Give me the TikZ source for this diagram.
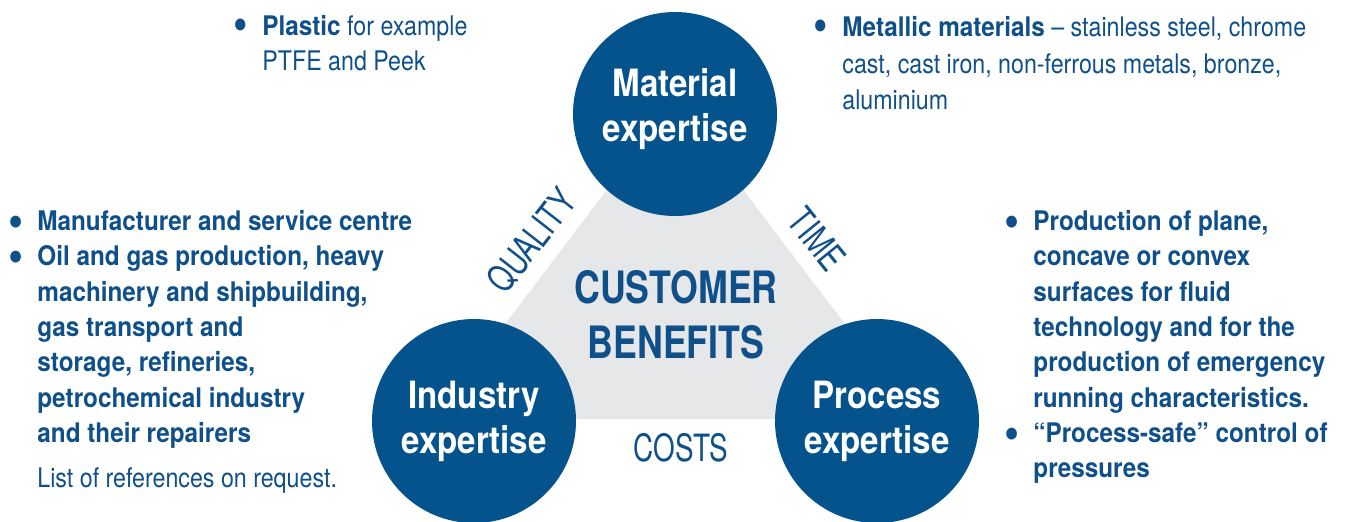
\documentclass[tikz,border=0pt]{standalone}
\usepackage{fontspec}
\setmainfont{TeX Gyre Heros}[UprightFeatures={FakeStretch=0.86},BoldFeatures={FakeStretch=0.9}]
\newfontfamily\capsfont{TeX Gyre Heros}[UprightFeatures={FakeStretch=0.74},BoldFeatures={FakeStretch=0.8}]
\newfontfamily\circfont{TeX Gyre Heros}[BoldFeatures={FakeStretch=0.88}]

\definecolor{kblue}{RGB}{4,83,140}
\definecolor{ktext}{RGB}{16,80,138}
\definecolor{kgray}{RGB}{230,231,233}

\tikzset{
  expertise/.style={circle,fill=kblue,minimum size=102pt,inner sep=0pt,text=white,align=center,
    font=\circfont\bfseries\fontsize{18.8}{22.5}\selectfont},
  listbold/.style={anchor=north west,inner sep=0pt,text=ktext,align=left,
    font=\bfseries\fontsize{13.5}{17.65}\selectfont},
  listplain/.style={anchor=north west,inner sep=0pt,text=ktext,align=left,
    font=\fontsize{13.5}{17.65}\selectfont},
  edgelabel/.style={inner sep=0pt,text=ktext,font=\capsfont\fontsize{18.8}{22}\selectfont}
}
\newcommand{\bul}{\llap{\raisebox{-3pt}{\fontsize{24}{24}\selectfont\textbullet}\hspace{7pt}}}

\begin{document}
\begin{tikzpicture}[x=0.5pt,y=-0.5pt]
  \useasboundingbox (0,0) rectangle (1345,521);

  % triangle behind the circles
  \coordinate (apex) at (675,100);
  \coordinate (leftcorner) at (433,419);
  \coordinate (rightcorner) at (917,419);
  \fill[kgray] (apex) -- (leftcorner) -- (rightcorner) -- cycle;

  % circles
  \node[expertise,text depth=9pt] (material) at (675,114) {Material\\expertise};
  \node[expertise] (industry) at (474,421) {Industry\\expertise};
  \node[expertise] (process) at (877,421) {Process\\expertise};

  % centre
  \node[anchor=north,inner sep=0pt,text=ktext,align=center,
    font=\capsfont\bfseries\fontsize{22.3}{27.5}\selectfont] (benefits) at (676,270) {CUSTOMER\\BENEFITS};

  % edge labels
  \node[edgelabel,rotate=52] (quality) at (532,241) {QUALITY};
  \node[edgelabel,rotate=-51] (time) at (817,239) {TIME};
  \node[edgelabel,anchor=north] (costs) at (681,433) {COSTS};

  % top left
  \node[listplain] (plastic) at (262,15) {\bul\textbf{Plastic} for example\\PTFE and Peek};

  % top right
  \node[listplain,font=\fontsize{13.5}{18.3}\selectfont] (metallic) at (842,16)
    {\bul\textbf{Metallic materials} -- stainless steel, chrome\\cast, cast iron, non-ferrous metals, bronze,\\aluminium};

  % left
  \node[listbold] (industrylist) at (37,210) {\bul Manufacturer and service centre\\
    \bul Oil and gas production, heavy\\machinery and shipbuilding,\\gas transport and\\
    storage, refineries,\\petrochemical industry\\and their repairers};
  \node[listplain] (references) at (37,467) {List of references on request.};

  % right
  \node[listbold] (processlist) at (1033,210) {\bul Production of plane,\\concave or convex\\
    surfaces for fluid\\technology and for the\\production of emergency\\running characteristics.\\
    \bul “Process-safe” control of\\pressures};
\end{tikzpicture}
\end{document}
